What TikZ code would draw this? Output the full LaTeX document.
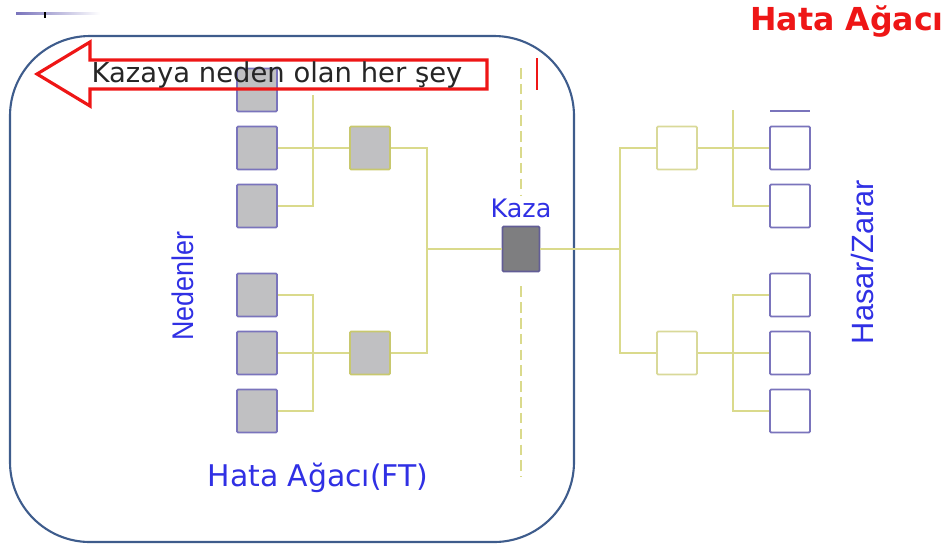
\documentclass[tikz,border=0pt]{standalone}
\usepackage{fontspec}
\setmainfont{DejaVu Sans}
\newfontfamily\narrowfont{Liberation Sans}
\usepackage{tikz}
\usetikzlibrary{positioning,shapes}
\usepackage{xcolor}
\definecolor{ftframe}{RGB}{62,92,140}
\definecolor{ftred}{RGB}{238,22,22}
\definecolor{ftblue}{RGB}{48,48,228}
\definecolor{ftyellow}{RGB}{218,218,140}
\definecolor{ftolive}{RGB}{200,200,110}
\definecolor{ftgray}{RGB}{192,192,194}
\definecolor{ftdark}{RGB}{126,126,128}
\definecolor{ftpurple}{RGB}{122,116,188}
\tikzstyle{causebox} = [rectangle, rounded corners=0.6pt, minimum width=0.8cm, minimum height=0.86cm, inner sep=0pt, draw=ftpurple, fill=ftgray, line width=1pt]
\tikzstyle{gatebox} = [causebox, draw=ftolive]
\tikzstyle{topbox} = [causebox, draw=ftpurple!80!black, fill=ftdark, minimum width=0.74cm, minimum height=0.9cm]
\tikzstyle{lossbox} = [causebox, fill=white]
\tikzstyle{effectbox} = [causebox, draw=ftolive!70, fill=white]
\tikzstyle{link} = [line width=0.9pt, color=ftyellow]
\tikzstyle{bluelabel} = [text=ftblue, inner sep=0pt]

\begin{document}
\begin{tikzpicture}[x=0.2mm, y=-0.2mm]
\useasboundingbox (0,0) rectangle (950,547);

% frame and title
\shade[left color=ftpurple, right color=white] (16,12) rectangle (100,14.5);
\draw[black, line width=1.4pt] (45,12) -- (45,18);
\draw[ftframe, line width=1.2pt, rounded corners=1.6cm] (10,36) rectangle (574,542);
\node[text=ftred, font=\bfseries\fontsize{18}{20}\selectfont] (title) at (847,22) {Hata Ağacı};

% causes (upper)
\node[causebox] (c1) at (257,90) {};
\node[causebox] (c2) at (257,148) {};
\node[causebox] (c3) at (257,206) {};
\node[gatebox] (g1) at (370,148) {};

% causes (lower)
\node[causebox] (c4) at (257,295) {};
\node[causebox] (c5) at (257,353) {};
\node[causebox] (c6) at (257,411) {};
\node[gatebox] (g2) at (370,353) {};

% top event
\node[topbox] (kaza) at (521,249) {};
\node[bluelabel, above=4pt of kaza, font=\fontsize{14.5}{16}\selectfont] (kazalbl) {Kaza};

% consequences
\node[effectbox] (m1) at (677,148) {};
\node[effectbox] (m2) at (677,353) {};
\node[lossbox] (r1) at (790,148) {};
\node[lossbox] (r2) at (790,206) {};
\node[lossbox] (r3) at (790,295) {};
\node[lossbox] (r4) at (790,353) {};
\node[lossbox] (r5) at (790,411) {};
\draw[ftpurple, line width=1pt] (770,111) -- (810,111);

% joints
\coordinate (j1) at (313,95);
\coordinate (j2) at (427,249);
\coordinate (j3) at (313,411);
\coordinate (j4) at (620,249);
\coordinate (j5) at (733,110);
\coordinate (j6) at (733,353);

% Arrows
\draw[link] (c2.east) -- (g1.west);
\draw[link] (c3.east) -| (j1);
\draw[link] (c5.east) -- (g2.west);
\draw[link] (c4.east) -| (j3) -- (c6.east);
\draw[link] (g1.east) -| (j2) |- (g2.east);
\draw[link] (j2) -- (kaza.west);
\draw[link] (kaza.east) -- (j4);
\draw[link] (m1.west) -| (j4) |- (m2.west);
\draw[link] (m1.east) -- (r1.west);
\draw[link] (j5) |- (r2.west);
\draw[link] (m2.east) -- (r4.west);
\draw[link] (r3.west) -| (j6) |- (r5.west);
\draw[link, dash pattern=on 6pt off 3pt] (kaza.center |- 0,68) -- (kazalbl.north |- 0,195);
\draw[link, dash pattern=on 6pt off 3pt] (kaza.south) ++(0,14) -- (kaza.center |- 0,477);
\draw[ftred, line width=0.8pt] (537,58) -- (537,90);

% big arrow
\draw[ftred, line width=1.8pt, line join=miter] (37,74) -- (90,42) -- (90,60) -- (487,60) -- (487,89) -- (90,89) -- (90,106) -- cycle;
\node[text=black!85, font=\fontsize{15.6}{17}\selectfont] (allcause) at (277,75) {Kazaya neden olan her şey};

% side labels
\node[bluelabel, rotate=90] (neden) at (183,286) {\narrowfont\fontsize{17}{17}\selectfont\scalebox{0.9}[1]{Nedenler}};
\node[bluelabel, rotate=90] (hasar) at (862,262) {\narrowfont\fontsize{17.5}{17.5}\selectfont\scalebox{1.0}[1]{Hasar/Zarar}};
\node[bluelabel, font=\fontsize{17}{18}\selectfont] (ftlbl) at (318,478) {Hata Ağacı(FT)};
\end{tikzpicture}
\end{document}
